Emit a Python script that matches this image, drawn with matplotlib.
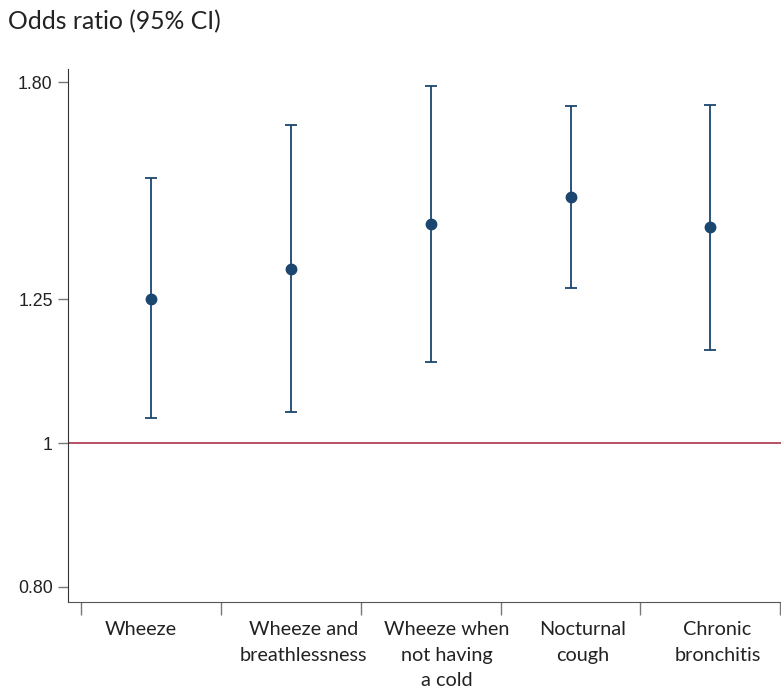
import numpy as np
import matplotlib.pyplot as plt
from matplotlib.ticker import FixedLocator, NullFormatter, NullLocator

# data (odds ratios, 95% CI)
labels = ["Wheeze", "Wheeze and\nbreathlessness", "Wheeze when\nnot having\na cold",
          "Nocturnal\ncough", "Chronic\nbronchitis"]
odds = [1.25, 1.31, 1.405, 1.465, 1.397]
lower = [1.040, 1.049, 1.134, 1.271, 1.155]
upper = [1.508, 1.637, 1.740, 1.686, 1.690]

ytick_vals = [0.8, 1.0, 1.25, 1.75]
ytick_text = ["0.80", "1", "1.25", "1.80"]

# horizontal nudge of each category label (pixels), as in the reference
label_dx = [-10, 13, 16, 12, 7]

blue = "#1a4670"
red = "#a3213a"

fig = plt.figure(figsize=(7.81, 6.9), dpi=100)
ax = fig.add_axes([68/781, 1 - 602/690, (781 - 68)/781 + 0.01, (602 - 69)/690])

x = np.arange(len(labels))
odds = np.array(odds)
err = np.vstack([odds - np.array(lower), np.array(upper) - odds])

ax.set_yscale("log")
ax.axhline(1.0, color=red, lw=1.1, zorder=1)
ax.errorbar(x, odds, yerr=err, fmt="o", color=blue, ecolor=blue, elinewidth=1.3,
            capsize=4, capthick=1.3, markersize=7.5, zorder=3)

ax.set_ylim(0.7815, 1.786)
ax.set_xlim(-0.591, 4.56)

ax.yaxis.set_major_locator(FixedLocator(ytick_vals))
ax.yaxis.set_minor_locator(NullLocator())
ax.set_yticklabels(ytick_text, fontsize=12.8, family="Liberation Sans", color="#222222")
ax.yaxis.set_minor_formatter(NullFormatter())
ax.tick_params(axis="y", length=7, width=1, color="#777777", pad=4)

# boundary ticks between categories
ax.set_xticks(np.arange(-0.5, len(labels), 1.0))
ax.set_xticklabels([])
ax.tick_params(axis="x", which="major", length=9, width=1, color="#777777", direction="out")

# category labels below the axis
for i, (lab, dx) in enumerate(zip(labels, label_dx)):
    ax.annotate(lab, xy=(i, 0), xycoords=("data", "axes fraction"),
                xytext=(dx, -19), textcoords="offset pixels",
                ha="center", va="top", fontsize=14.3, family="Lato",
                color="#222222", linespacing=1.61, annotation_clip=False)

for s in ["top", "right"]:
    ax.spines[s].set_visible(False)
ax.spines["left"].set_color("#333333")
ax.spines["bottom"].set_color("#555555")

fig.text(8/781, 1 - 22/690, "Odds ratio (95% CI)", fontsize=17.8, family="Lato",
         va="center", ha="left", color="#222222")

fig.savefig("out.png", dpi=100)
